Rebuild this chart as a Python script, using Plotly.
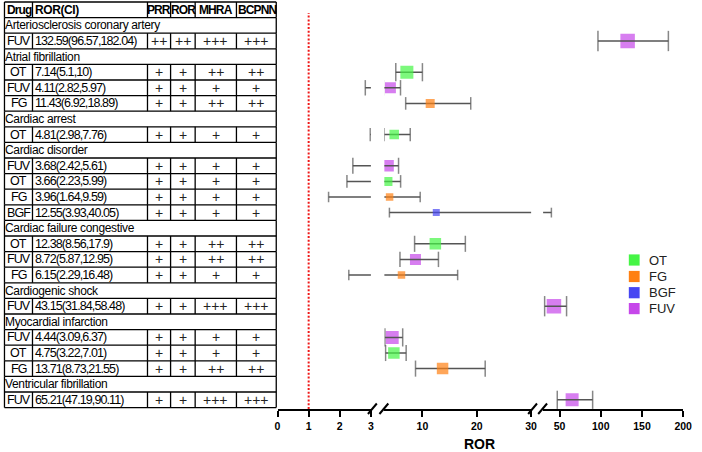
import plotly.graph_objects as go

# ---------------- data ----------------
sections = ["Arteriosclerosis coronary artery", "Atrial fibrillation", "Cardiac arrest",
            "Cardiac disorder", "Cardiac failure congestive", "Cardiogenic shock",
            "Myocardial infarction", "Ventricular fibrillation"]
row_section = [0, 1, 1, 1, 2, 3, 3, 3, 3, 4, 4, 4, 5, 6, 6, 6, 7]
drugs = ["FUV", "OT", "FUV", "FG", "OT", "FUV", "OT", "FG", "BGF", "OT", "FUV", "FG",
         "FUV", "FUV", "OT", "FG", "FUV"]
ror = [132.59, 7.14, 4.11, 11.43, 4.81, 3.68, 3.66, 3.96, 12.55, 12.38, 8.72, 6.15,
       43.15, 4.44, 4.75, 13.71, 65.21]
ci_low = [96.57, 5.1, 2.82, 6.92, 2.98, 2.42, 2.23, 1.64, 3.93, 8.56, 5.87, 2.29,
          31.84, 3.09, 3.22, 8.73, 47.19]
ci_high = [182.04, 10, 5.97, 18.89, 7.76, 5.61, 5.99, 9.59, 40.05, 17.9, 12.95, 16.48,
           58.48, 6.37, 7.01, 21.55, 90.11]
prr = ["++", "+", "+", "+", "+", "+", "+", "+", "+", "+", "+", "+", "+", "+", "+", "+", "+"]
ror_sig = ["++", "+", "+", "+", "+", "+", "+", "+", "+", "+", "+", "+", "+", "+", "+", "+", "+"]
mhra = ["+++", "++", "+", "++", "+", "+", "+", "+", "+", "++", "++", "+", "+++", "+", "+", "++", "+++"]
bcpnn = ["+++", "++", "+", "++", "+", "+", "+", "+", "+", "++", "++", "+", "+++", "+", "+", "++", "+++"]
header = ["Drug", "ROR(CI)", "PRR", "ROR", "MHRA", "BCPNN"]
series = ["OT", "FG", "BGF", "FUV"]
seg_ranges = [(0, 3), (3, 30), (30, 200)]
seg_ticks = [[0, 1, 2, 3], [10, 20, 30], [50, 100, 150, 200]]

# ---------------- styles ----------------
W, H = 702, 452
PLOT_BOTTOM = 409
colors = {"OT": "#45F545", "FG": "#FF8012", "BGF": "#4646F2", "FUV": "#C647EA"}
box_px = [14.5, 13, 11, 9, 9.5, 11.5, 9, 7.5, 7, 11.5, 11, 7.5, 14.5, 13, 11.5, 11.5, 13]
seg_dom_px = [(279.3, 374.3), (388, 537.3), (549.5, 692)]
col_px = [1.5, 30, 147, 170.5, 195.5, 237.5, 278]
TFONT = "Arial, Liberation Sans, sans-serif"
TSIZE = 12.5
AFONT = "Arial, Liberation Sans, sans-serif"


def px(x):
    return x / W


def py(y):
    return (PLOT_BOTTOM - y) / PLOT_BOTTOM


# row indices (0 = header)
section_rows = []
data_rows = []
r = 1
for s in range(len(sections)):
    section_rows.append(r)
    r += 1
    for i, sec in enumerate(row_section):
        if sec == s:
            data_rows.append(r)
            r += 1
n_rows = r

fig = go.Figure()
axes_ids = ["x", "x2", "x3"]


def add_boxes(ax, names):
    for name in names:
        idx = [i for i, d in enumerate(drugs) if d == name]
        fig.add_trace(go.Scatter(
            x=[ror[i] for i in idx], y=[data_rows[i] for i in idx], xaxis=ax, yaxis="y",
            mode="markers", showlegend=False, hoverinfo="skip",
            marker=dict(symbol="square", size=[box_px[i] for i in idx],
                        color=colors[name], line=dict(width=0))))


for ax in axes_ids:
    add_boxes(ax, ["FUV"])
    lx, ly = [], []
    for i in range(len(ror)):
        lx += [ci_low[i], ci_high[i], None]
        ly += [data_rows[i], data_rows[i], None]
    fig.add_trace(go.Scatter(x=lx, y=ly, xaxis=ax, yaxis="y", mode="lines",
                             line=dict(color="#555555", width=1.5),
                             showlegend=False, hoverinfo="skip"))
    fig.add_trace(go.Scatter(
        x=ci_low + ci_high, y=data_rows + data_rows, xaxis=ax, yaxis="y", mode="markers",
        marker=dict(symbol="line-ns", size=box_px + box_px,
                    line=dict(color="#555555", width=1.5)),
        showlegend=False, hoverinfo="skip"))
    add_boxes(ax, ["OT", "FG", "BGF"])

layout = dict(
    width=W, height=H, margin=dict(l=0, r=0, t=0, b=H - PLOT_BOTTOM),
    paper_bgcolor="white", plot_bgcolor="rgba(0,0,0,0)", showlegend=False,
    yaxis=dict(range=[n_rows - 1 + 0.59, -0.628], visible=False, fixedrange=True),
)
for k, ax in enumerate(axes_ids):
    key = "xaxis" if k == 0 else f"xaxis{k + 1}"
    layout[key] = dict(
        domain=[px(seg_dom_px[k][0]), px(seg_dom_px[k][1])], range=list(seg_ranges[k]),
        anchor="y", showline=True, linecolor="black", linewidth=2,
        ticks="outside", ticklen=6, tickwidth=2, tickcolor="black",
        tickvals=seg_ticks[k], ticktext=[str(t) for t in seg_ticks[k]],
        tickfont=dict(family=AFONT, size=10.5, color="black", weight="bold"),
        showgrid=False, zeroline=False, fixedrange=True)
fig.update_layout(**layout)

shapes = []
annotations = []
# reference line at ROR = 1
shapes.append(dict(type="line", xref="x", yref="paper", x0=1, x1=1, y0=0, y1=py(13),
                   line=dict(color="#F01818", width=2, dash="2px,1.8px")))

# table grid
LW = 1.3
for k in range(n_rows + 1):
    shapes.append(dict(type="line", xref="paper", yref="y", x0=px(col_px[0]), x1=px(col_px[-1]),
                       y0=k - 0.5, y1=k - 0.5, line=dict(color="black", width=LW)))
grid_rows = [0] + data_rows
for rr in range(n_rows):
    xs = col_px if rr in grid_rows else [col_px[0], col_px[-1]]
    for xv in xs:
        shapes.append(dict(type="line", xref="paper", yref="y", x0=px(xv), x1=px(xv),
                           y0=rr - 0.5, y1=rr + 0.5, line=dict(color="black", width=LW)))


def txt(x, y, s, anchor="center", bold=False, ls=-0.5, size=TSIZE, color="black"):
    annotations.append(dict(xref="paper", yref="y", x=px(x), y=y,
                            text=f'<span style="letter-spacing:{ls}px">{s}</span>',
                            showarrow=False, xanchor=anchor, yanchor="middle",
                            font=dict(family=TFONT, size=size, color=color,
                                      weight="bold" if bold else "normal")))


col_centers = [(col_px[i] + col_px[i + 1]) / 2 for i in range(len(col_px) - 1)]
# header
txt(2, 0, header[0], "left", True, -0.9, 12)
txt(31, 0, header[1], "left", True, -0.4, 12)
for j in range(2, 6):
    txt(col_centers[j] + 0.45, 0, header[j], "center", True, -0.9, 12)
for s, rr in enumerate(section_rows):
    txt(0, rr, sections[s], "left", False, -0.35, 12)
for i, rr in enumerate(data_rows):
    txt(col_centers[0] + 0.45, rr, drugs[i], "center", False, -0.9)
    txt(31, rr, f"{ror[i]:g}({ci_low[i]:g},{ci_high[i]:g})", "left", False, -0.9)
    for j, col in ((2, prr), (3, ror_sig), (4, mhra), (5, bcpnn)):
        txt(col_centers[j], rr, col[i], "center", False, 0, 14, "#222222")

# axis breaks (double slashes)
for gap_l, gap_r in [(seg_dom_px[0][1], seg_dom_px[1][0]), (seg_dom_px[1][1], seg_dom_px[2][0])]:
    for x0 in (gap_l - 3, gap_r - 5):
        shapes.append(dict(type="line", xref="paper", yref="paper",
                           x0=px(x0), x1=px(x0 + 9), y0=py(414), y1=py(403.5),
                           line=dict(color="black", width=2)))

# x axis title
annotations.append(dict(xref="paper", yref="paper", x=px(485), y=py(444), text="ROR",
                        showarrow=False, xanchor="center", yanchor="middle",
                        font=dict(family=AFONT, size=14, color="black", weight="bold")))

# legend
leg_y = [260, 276.5, 292.7, 308.6]
for name, yc in zip(series, leg_y):
    shapes.append(dict(type="rect", xref="paper", yref="paper", x0=px(636.7), x1=px(647.7),
                       y0=py(yc - 5.6), y1=py(yc + 5.6), fillcolor=colors[name],
                       line=dict(width=0)))
    annotations.append(dict(xref="paper", yref="paper", x=px(655), y=py(yc), text=name,
                            showarrow=False, xanchor="left", yanchor="middle",
                            font=dict(family=AFONT, size=13, color="#222222")))

fig.update_layout(shapes=shapes, annotations=annotations)
fig.write_html("out.html")
